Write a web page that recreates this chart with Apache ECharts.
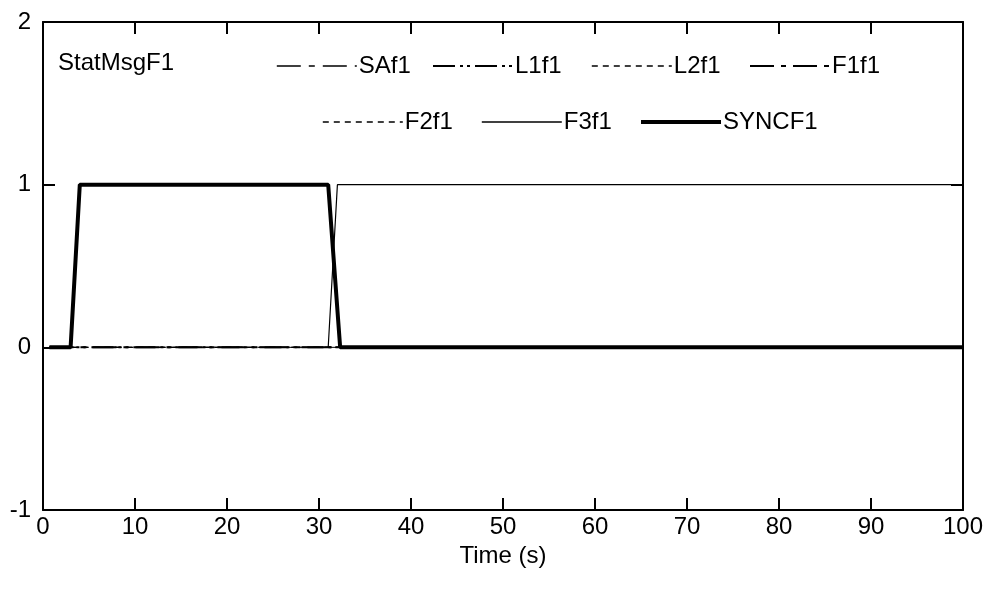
<!DOCTYPE html>
<html>
<head>
<meta charset="utf-8">
<script src="https://cdn.jsdelivr.net/npm/echarts@6/dist/echarts.min.js"></script>
<style>
  html, body { margin: 0; padding: 0; background: #fff; }
  #main { width: 987px; height: 591px; }
</style>
</head>
<body>
<div id="main"></div>
<script>
// time (s) and value pairs for each signal
const flatTime = [0.7, 100];
const flatVal = [0, 0];
const f3Time = [31, 32, 100];
const f3Val = [0, 1, 1];
const syncTime = [0.7, 3, 4, 31, 32.3, 100];
const syncVal = [0, 0, 1, 1, 0, 0];
const xTicks = [0, 10, 20, 30, 40, 50, 60, 70, 80, 90, 100];
const yTicks = [-1, 0, 1, 2];
const names = ["SAf1", "L1f1", "L2f1", "F1f1", "F2f1", "F3f1", "SYNCF1"];

const FONT = "'Liberation Sans', Arial, sans-serif";

// line look per signal: width and dash
const widths = [1, 2, 1.2, 2, 1.2, 1.2, 4];
const dashes = [
  [24, 8, 6, 8],
  [22, 5, 3, 4, 3, 5],
  [6, 5],
  [24, 7, 5, 7],
  [6, 5],
  "solid",
  "solid",
];

function pairs(t, v) {
  return t.map((x, i) => [x, v[i]]);
}

function line(i, t, v, z) {
  return {
    name: names[i],
    type: "line",
    data: pairs(t, v),
    showSymbol: false,
    symbol: "none",
    animation: false,
    z: z,
    lineStyle: { color: "#000", width: widths[i], type: dashes[i] },
    itemStyle: { color: "#000" },
  };
}

// one legend per entry so each sits where it does in the original
const legendSpots = [
  [276, 54], [432, 54], [591, 54], [749, 54],
  [322, 110], [481, 110], [639, 110],
];
const legends = names.map((n, i) => ({
  data: [n],
  left: legendSpots[i][0],
  top: legendSpots[i][1],
  padding: 0,
  itemWidth: 80,
  itemHeight: 14,
  itemGap: 0,
  selectedMode: false,
  itemStyle: { color: "rgba(0,0,0,0)", borderWidth: 0 },
  // thin lines get a touch more weight so they don't blur to grey
  lineStyle: { color: "#000", width: Math.max(widths[i], 1.6), type: dashes[i] },
  textStyle: { fontFamily: FONT, fontSize: 24, color: "#000", padding: [0, 0, 0, -3] },
}));

const frameLine = { onZero: false, lineStyle: { color: "#000", width: 2 } };
const frameTick = { inside: true, length: 12, lineStyle: { color: "#000", width: 2 } };

const myChart = echarts.init(document.getElementById("main"));
myChart.setOption({
  backgroundColor: "#fff",
  animation: false,
  title: {
    text: "StatMsgF1",
    left: 53,
    top: 46,
    textStyle: { fontFamily: FONT, fontSize: 24, fontWeight: "normal", color: "#000" },
  },
  legend: legends,
  grid: { left: 43, right: 24, top: 22, bottom: 81 },
  xAxis: [
    {
      type: "value",
      min: 0,
      max: 100,
      interval: 10,
      name: "Time (s)",
      nameLocation: "middle",
      nameGap: 30,
      nameTextStyle: { fontFamily: FONT, fontSize: 24, color: "#000" },
      axisLine: frameLine,
      axisTick: frameTick,
      axisLabel: { fontFamily: FONT, fontSize: 24, color: "#000", margin: 5,
        formatter: (v) => (xTicks.indexOf(v) >= 0 ? String(v) : "") },
      splitLine: { show: false },
    },
    {
      type: "value",
      position: "top",
      min: 0,
      max: 100,
      interval: 10,
      axisLine: frameLine,
      axisTick: frameTick,
      axisLabel: { show: false },
      splitLine: { show: false },
    },
  ],
  yAxis: [
    {
      type: "value",
      min: -1,
      max: 2,
      interval: 1,
      axisLine: frameLine,
      axisTick: frameTick,
      axisLabel: { fontFamily: FONT, fontSize: 24, color: "#000", margin: 12,
        formatter: (v) => (yTicks.indexOf(v) >= 0 ? String(v) : "") },
      splitLine: { show: false },
    },
    {
      type: "value",
      position: "right",
      min: -1,
      max: 2,
      interval: 1,
      axisLine: frameLine,
      axisTick: frameTick,
      axisLabel: { show: false },
      splitLine: { show: false },
    },
  ],
  series: [
    line(0, flatTime, flatVal, 2),
    line(1, flatTime, flatVal, 2),
    line(2, flatTime, flatVal, 2),
    line(3, flatTime, flatVal, 3),
    line(4, flatTime, flatVal, 2),
    line(5, f3Time, f3Val, 4),
    line(6, syncTime, syncVal, 5),
  ],
});
</script>
</body>
</html>
